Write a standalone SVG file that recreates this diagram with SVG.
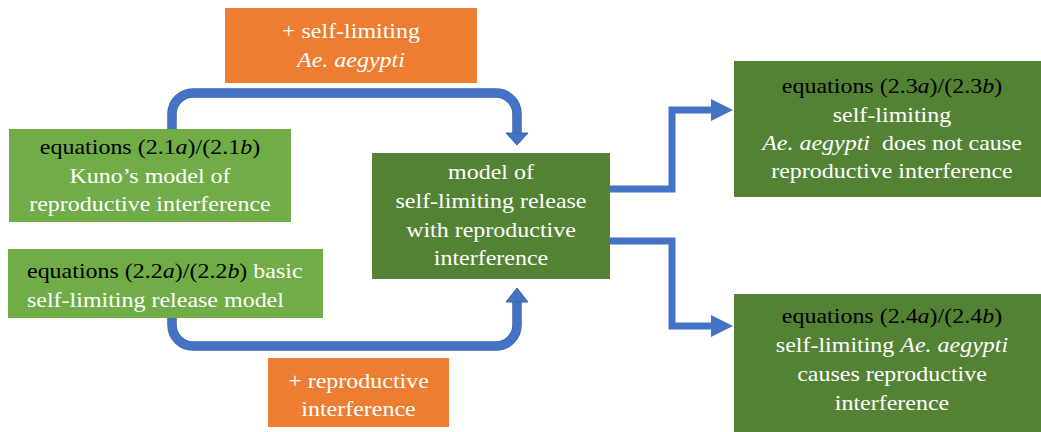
<svg xmlns="http://www.w3.org/2000/svg" width="1041" height="432" viewBox="0 0 1041 432">
<style>
text{font-size:22px;fill:#fff}
.c{text-anchor:middle}
.s{text-anchor:start}
.k{fill:#000}
.i{font-style:italic}
.lg{fill:#70AD47}
.dg{fill:#548235}
.or{fill:#ED7D31}
.cu{fill:none;stroke:#4472C4;stroke-width:8}
.cuo{fill:none;stroke:#3A62AA;stroke-width:9.5}
.st{fill:none;stroke:#4472C4;stroke-width:7}
.ah{fill:#4472C4}
.aho{fill:#4472C4;stroke:#3A62AA;stroke-width:1}
</style>
<rect width="1041" height="432" fill="#fff"/>
<g id="connectors">
<path class="cuo" d="M172 129 V114 A21 21 0 0 1 193 93 H496 A21 21 0 0 1 517 114 V134"/>
<path class="cu" d="M172 129 V114 A21 21 0 0 1 193 93 H496 A21 21 0 0 1 517 114 V134"/>
<polygon class="aho" points="506,133 528,133 517,145"/>
<path class="cuo" d="M172 318 V325 A21 21 0 0 0 193 346 H496 A21 21 0 0 0 517 325 V301"/>
<path class="cu" d="M172 318 V325 A21 21 0 0 0 193 346 H496 A21 21 0 0 0 517 325 V301"/>
<polygon class="aho" points="506,302 528,302 517,288"/>
<path class="st" d="M610 189 H672 V110 H712"/>
<polygon class="ah" points="711,99 733,110 711,121"/>
<path class="st" d="M610 241 H672 V326 H712"/>
<polygon class="ah" points="711,315 733,326 711,337"/>
</g>
<g id="label-self-limiting">
<rect class="or" x="225" y="8" width="252" height="75"/>
<text font-family="Liberation Serif, serif" class="c" transform="translate(351,0) scale(1.09,1)" x="0" y="38">+ self-limiting</text>
<text font-family="Liberation Serif, serif" class="c i" transform="translate(351,0) scale(1.09,1)" x="0" y="67">Ae. aegypti</text>
</g>
<g id="node-kuno">
<rect class="lg" x="9" y="129" width="282" height="93"/>
<text font-family="Liberation Serif, serif" class="c" transform="translate(150,0) scale(1.09,1)" x="0" y="154"><tspan class="k">equations (2.1<tspan class="i">a</tspan>)/(2.1<tspan class="i">b</tspan>)</tspan></text>
<text font-family="Liberation Serif, serif" class="c" transform="translate(150,0) scale(1.09,1)" x="0" y="183">Kuno’s model of</text>
<text font-family="Liberation Serif, serif" class="c" transform="translate(150,0) scale(1.09,1)" x="0" y="211">reproductive interference</text>
</g>
<g id="node-basic">
<rect class="lg" x="8" y="249" width="315" height="69"/>
<text font-family="Liberation Serif, serif" class="s" transform="translate(27,0) scale(1.09,1)" x="0" y="278"><tspan class="k">equations (2.2<tspan class="i">a</tspan>)/(2.2<tspan class="i">b</tspan>)</tspan> basic</text>
<text font-family="Liberation Serif, serif" class="s" transform="translate(27,0) scale(1.09,1)" x="0" y="307">self-limiting release model</text>
</g>
<g id="node-model">
<rect class="dg" x="372" y="153" width="238" height="126"/>
<text font-family="Liberation Serif, serif" class="c" transform="translate(491,0) scale(1.09,1)" x="0" y="179">model of</text>
<text font-family="Liberation Serif, serif" class="c" transform="translate(491,0) scale(1.09,1)" x="0" y="208">self-limiting release</text>
<text font-family="Liberation Serif, serif" class="c" transform="translate(491,0) scale(1.09,1)" x="0" y="237">with reproductive</text>
<text font-family="Liberation Serif, serif" class="c" transform="translate(491,0) scale(1.09,1)" x="0" y="265">interference</text>
</g>
<g id="label-reproductive">
<rect class="or" x="268" y="358" width="181" height="69"/>
<text font-family="Liberation Serif, serif" class="c" transform="translate(358.5,0) scale(1.09,1)" x="0" y="388">+ reproductive</text>
<text font-family="Liberation Serif, serif" class="c" transform="translate(358.5,0) scale(1.09,1)" x="0" y="416">interference</text>
</g>
<g id="node-no-ri">
<rect class="dg" x="734" y="61" width="307" height="136"/>
<text font-family="Liberation Serif, serif" class="c" transform="translate(892,0) scale(1.09,1)" x="0" y="93"><tspan class="k">equations (2.3<tspan class="i">a</tspan>)/(2.3<tspan class="i">b</tspan>)</tspan></text>
<text font-family="Liberation Serif, serif" class="c" transform="translate(892,0) scale(1.09,1)" x="0" y="122">self-limiting</text>
<text font-family="Liberation Serif, serif" class="c" transform="translate(892,0) scale(1.09,1)" x="0" y="150"><tspan class="i">Ae. aegypti</tspan> &#160;does not cause</text>
<text font-family="Liberation Serif, serif" class="c" transform="translate(892,0) scale(1.09,1)" x="0" y="178">reproductive interference</text>
</g>
<g id="node-ri">
<rect class="dg" x="734" y="294" width="307" height="138"/>
<text font-family="Liberation Serif, serif" class="c" transform="translate(892,0) scale(1.09,1)" x="0" y="323"><tspan class="k">equations (2.4<tspan class="i">a</tspan>)/(2.4<tspan class="i">b</tspan>)</tspan></text>
<text font-family="Liberation Serif, serif" class="c" transform="translate(892,0) scale(1.09,1)" x="0" y="352">self-limiting <tspan class="i">Ae. aegypti</tspan></text>
<text font-family="Liberation Serif, serif" class="c" transform="translate(892,0) scale(1.09,1)" x="0" y="381">causes reproductive</text>
<text font-family="Liberation Serif, serif" class="c" transform="translate(892,0) scale(1.09,1)" x="0" y="410">interference</text>
</g>
</svg>
